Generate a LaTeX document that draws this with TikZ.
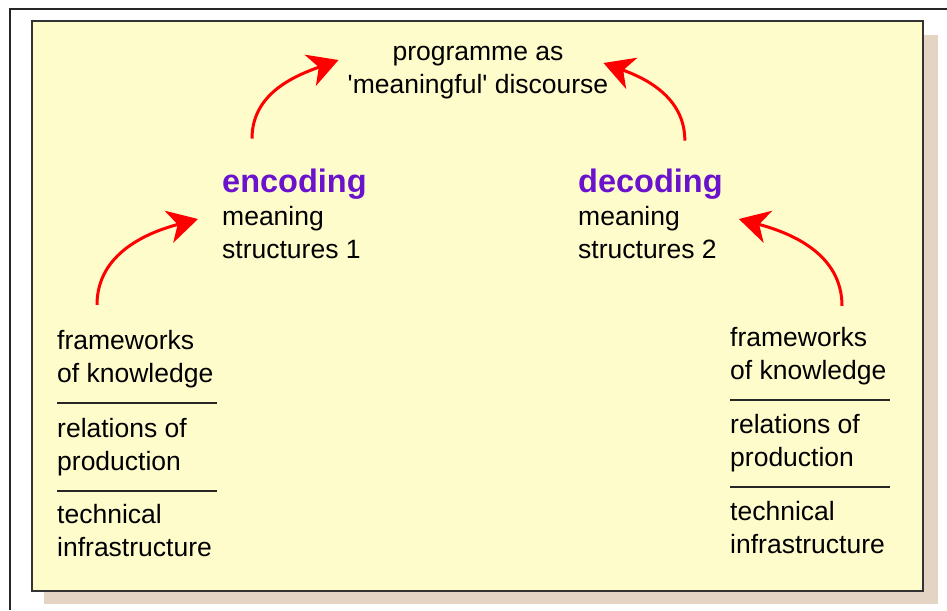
\documentclass[tikz,border=0pt]{standalone}
\usepackage{fontspec}
\setmainfont{Liberation Sans}
\usepackage{xcolor}
\definecolor{notepaper}{HTML}{FFFCCC}
\definecolor{shadowtan}{HTML}{E3D4C4}
\definecolor{codepurple}{HTML}{6A12CC}
\definecolor{arrowred}{HTML}{FF0000}
\usetikzlibrary{arrows.meta,positioning}

\begin{document}
\begin{tikzpicture}[x=1pt, y=-1pt,
  lbl/.style={inner sep=0pt, align=left, anchor=west,
    font=\fontsize{26.5}{33}\selectfont},
  codehead/.style={inner sep=0pt, anchor=west, text=codepurple,
    font=\fontsize{32.5}{33}\selectfont\bfseries},
  flow/.style={draw=arrowred, line width=3pt,
    -{Stealth[length=30pt, width=33pt, inset=9pt]}},
  divider/.style={line width=2pt, draw=black!85}]
  \useasboundingbox (0,0) rectangle (947,610);
  \fill[white] (0,0) rectangle (947,610);
  \draw[line width=2pt, draw=black!85] (10,610) -- (10,9) -- (947,9);
  % note card with its shadow
  \fill[shadowtan] (44,35) rectangle (938,604);
  \draw[line width=2pt, draw=black!80, fill=notepaper] (32,21) rectangle (923,591);

  % top: the programme
  \node[lbl, anchor=center, align=center] (prog) at (478,73)
    {programme as\\\textquotesingle meaningful\textquotesingle{} discourse};

  % encoding side
  \node[codehead] (enc) at (222,184) {encoding};
  \node[lbl] (encTxt) at (222,233) {meaning\\structures 1};
  \node[lbl] (fwL) at (57,359) {frameworks\\of knowledge};
  \node[lbl] (relL) at (57,447) {relations of\\production};
  \node[lbl] (techL) at (57,531) {technical\\infrastructure};
  \draw[divider] (57,403) -- (217,403);
  \draw[divider] (57,491) -- (217,491);

  % decoding side
  \node[codehead] (dec) at (578,184) {decoding};
  \node[lbl] (decTxt) at (578,233) {meaning\\structures 2};
  \node[lbl] (fwR) at (730,356) {frameworks\\of knowledge};
  \node[lbl] (relR) at (730,443) {relations of\\production};
  \node[lbl] (techR) at (730,528) {technical\\infrastructure};
  \draw[divider] (730,400) -- (890,400);
  \draw[divider] (730,487) -- (890,487);

  % red arrows
  \draw[flow] ([xshift=40pt, yshift=25pt]fwL.north west)
    to[out=90, in=195] ([xshift=-24pt, yshift=14pt]encTxt.west);
  \draw[flow] ([xshift=30pt, yshift=30pt]enc.north west)
    to[out=90, in=200] ([xshift=-9pt, yshift=13pt]prog.west);
  \draw[flow] ([xshift=-38pt, yshift=28pt]dec.north east)
    to[out=90, in=-20] ([xshift=-5pt, yshift=10pt]prog.east);
  \draw[flow] ([xshift=112pt, yshift=21pt]fwR.north west)
    to[out=90, in=-15] ([xshift=22pt, yshift=14pt]decTxt.east);
\end{tikzpicture}
\end{document}
